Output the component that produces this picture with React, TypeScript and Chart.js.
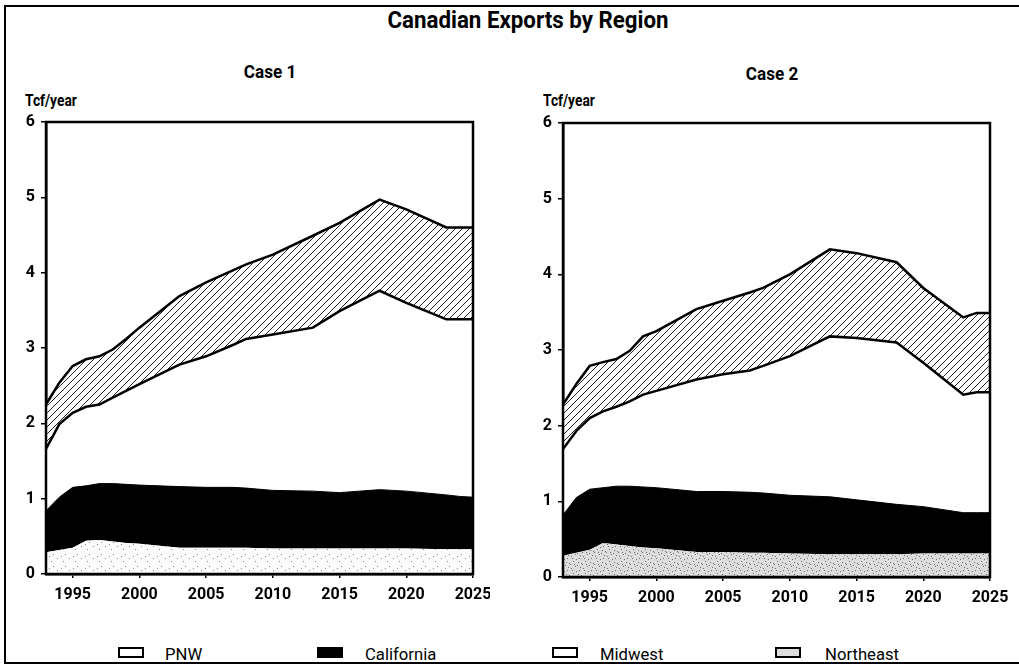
import React, { useEffect, useRef } from "react";
import { Chart, registerables } from "chart.js";

Chart.register(...registerables);

// ---------- DATA ----------
const years = [1993, 1994, 1995, 1996, 1997, 1998, 1999, 2000, 2003, 2005, 2007, 2008, 2010, 2013, 2015, 2018, 2020, 2023, 2024, 2025];
const xTickYears = [1995, 2000, 2005, 2010, 2015, 2020, 2025];
const yTicks = [0, 1, 2, 3, 4, 5, 6];
const seriesNames = ["PNW", "California", "Midwest", "Northeast"];

// Case 1 (Tcf/year, per region, stacked)
const case1PNW = [0.29, 0.32, 0.35, 0.44, 0.45, 0.43, 0.41, 0.40, 0.35, 0.35, 0.35, 0.35, 0.34, 0.34, 0.34, 0.34, 0.34, 0.33, 0.33, 0.33];
const case1California = [0.55, 0.70, 0.80, 0.73, 0.75, 0.77, 0.78, 0.78, 0.81, 0.80, 0.80, 0.79, 0.77, 0.76, 0.74, 0.78, 0.76, 0.72, 0.70, 0.69];
const case1Midwest = [0.82, 0.97, 0.99, 1.05, 1.05, 1.14, 1.24, 1.34, 1.62, 1.74, 1.89, 1.98, 2.07, 2.17, 2.41, 2.64, 2.50, 2.33, 2.35, 2.36];
const case1Northeast = [0.59, 0.55, 0.62, 0.63, 0.64, 0.64, 0.69, 0.75, 0.91, 0.98, 0.99, 0.99, 1.06, 1.22, 1.17, 1.21, 1.24, 1.22, 1.22, 1.22];

// Case 2
const case2PNW = [0.28, 0.32, 0.36, 0.45, 0.43, 0.41, 0.39, 0.38, 0.33, 0.33, 0.32, 0.32, 0.31, 0.30, 0.30, 0.30, 0.31, 0.31, 0.31, 0.31];
const case2California = [0.54, 0.73, 0.80, 0.73, 0.77, 0.79, 0.80, 0.80, 0.80, 0.80, 0.80, 0.79, 0.77, 0.76, 0.72, 0.66, 0.62, 0.54, 0.54, 0.54];
const case2Midwest = [0.87, 0.88, 0.94, 1.01, 1.05, 1.12, 1.22, 1.28, 1.48, 1.55, 1.61, 1.68, 1.84, 2.12, 2.14, 2.14, 1.90, 1.56, 1.59, 1.59];
const case2Northeast = [0.59, 0.62, 0.69, 0.65, 0.63, 0.67, 0.77, 0.79, 0.93, 0.97, 1.03, 1.03, 1.08, 1.15, 1.12, 1.06, 0.99, 1.02, 1.05, 1.05];

const FONT = 'Roboto, "Noto Sans", sans-serif';

// ---------- PATTERNS ----------
function makeHatch(): CanvasPattern | string {
  const c = document.createElement("canvas");
  c.width = 7;
  c.height = 7;
  const g = c.getContext("2d");
  if (!g) return "#ccc";
  g.fillStyle = "#fff";
  g.fillRect(0, 0, 7, 7);
  g.strokeStyle = "#222";
  g.lineWidth = 1;
  g.beginPath();
  g.moveTo(-1, 8);
  g.lineTo(8, -1);
  g.stroke();
  g.beginPath();
  g.moveTo(-1, 1);
  g.lineTo(1, -1);
  g.stroke();
  g.beginPath();
  g.moveTo(6, 8);
  g.lineTo(8, 6);
  g.stroke();
  return g.createPattern(c, "repeat") || "#ccc";
}

const speckDots = [
  [1, 2], [5, 0], [9, 4], [3, 7], [11, 9], [7, 11], [0, 10], [6, 5], [10, 1], [2, 4], [8, 8], [4, 10],
];

function makeSpeckle(count: number, base: string, dot: string): CanvasPattern | string {
  const c = document.createElement("canvas");
  c.width = 12;
  c.height = 12;
  const g = c.getContext("2d");
  if (!g) return base;
  g.fillStyle = base;
  g.fillRect(0, 0, 12, 12);
  g.fillStyle = dot;
  for (let i = 0; i < Math.min(count, speckDots.length); i++) {
    g.fillRect(speckDots[i][0], speckDots[i][1], 1, 1);
  }
  return g.createPattern(c, "repeat") || base;
}

// ---------- PANEL ----------
type Geom = { yWidth: number; xHeight: number; padTop: number; padRight: number };

const framePlugin = {
  id: "plotFrame",
  afterDatasetsDraw(chart: any) {
    const { ctx, chartArea } = chart;
    ctx.save();
    ctx.strokeStyle = "#000";
    ctx.lineWidth = 2.5;
    ctx.strokeRect(chartArea.left, chartArea.top, chartArea.right - chartArea.left, chartArea.bottom - chartArea.top);
    ctx.restore();
  },
};

function Panel(props: {
  pnw: number[];
  cal: number[];
  mid: number[];
  ne: number[];
  geom: Geom;
  speckCount: number;
  speckBase: string;
  speckDot: string;
  width: number;
  height: number;
}) {
  const ref = useRef<HTMLCanvasElement | null>(null);
  useEffect(() => {
    if (!ref.current) return;
    const hatch = makeHatch();
    const speck = makeSpeckle(props.speckCount, props.speckBase, props.speckDot);
    const pts = (arr: number[]) => years.map((x, i) => ({ x, y: arr[i] }));
    const { geom } = props;
    const chart = new Chart(ref.current, {
      type: "line",
      data: {
        datasets: [
          { label: seriesNames[0], data: pts(props.pnw), fill: "origin", backgroundColor: speck as any, borderColor: "rgba(0,0,0,0)", borderWidth: 0, pointRadius: 0, tension: 0 },
          { label: seriesNames[1], data: pts(props.cal), fill: "-1", backgroundColor: "#000", borderColor: "#000", borderWidth: 1, pointRadius: 0, tension: 0 },
          { label: seriesNames[2], data: pts(props.mid), fill: "-1", backgroundColor: "#fff", borderColor: "#000", borderWidth: 2.5, pointRadius: 0, tension: 0 },
          { label: seriesNames[3], data: pts(props.ne), fill: "-1", backgroundColor: hatch as any, borderColor: "#000", borderWidth: 2.5, pointRadius: 0, tension: 0 },
        ],
      },
      options: {
        animation: false,
        responsive: false,
        maintainAspectRatio: false,
        layout: { padding: { top: geom.padTop, right: geom.padRight, left: 0, bottom: 0 } },
        plugins: { legend: { display: false }, title: { display: false }, tooltip: { enabled: false } },
        scales: {
          x: {
            type: "linear",
            min: years[0],
            max: years[years.length - 1],
            grid: { display: true, drawOnChartArea: false, drawTicks: true, tickLength: 4, color: "#000", lineWidth: 1.5 },
            border: { display: true, color: "#000", width: 2.5 },
            afterBuildTicks: (scale: any) => {
              scale.ticks = xTickYears.map((v) => ({ value: v }));
            },
            afterFit: (scale: any) => {
              scale.height = geom.xHeight;
              scale.paddingLeft = 0;
              scale.paddingRight = 0;
            },
            ticks: {
              autoSkip: false,
              maxRotation: 0,
              color: "#000",
              padding: 7,
              font: { family: FONT, size: 16, weight: "bold" },
              callback: (v: any) => String(v),
            },
          },
          y: {
            stacked: true,
            min: 0,
            max: 6,
            grid: { display: true, drawOnChartArea: false, drawTicks: true, tickLength: 5, color: "#000", lineWidth: 1.5 },
            border: { display: true, color: "#000", width: 2.5 },
            afterBuildTicks: (scale: any) => {
              scale.ticks = yTicks.map((v) => ({ value: v }));
            },
            afterFit: (scale: any) => {
              scale.width = geom.yWidth;
              scale.paddingTop = 0;
              scale.paddingBottom = 0;
            },
            ticks: {
              color: "#000",
              padding: 6,
              font: { family: FONT, size: 16, weight: "bold" },
            },
          },
        },
      },
      plugins: [framePlugin],
    } as any);
    return () => chart.destroy();
  }, []);
  return <canvas ref={ref} width={props.width} height={props.height} style={{ width: props.width, height: props.height, display: "block" }} />;
}

function LegendItem(props: { left: number; textLeft: number; label: string; fill: string }) {
  return (
    <>
      <div
        style={{
          position: "absolute",
          left: props.left,
          top: 647,
          width: 22,
          height: 7,
          border: "2px solid #000",
          background: props.fill,
        }}
      />
      <div style={{ position: "absolute", left: props.textLeft, top: 644, fontSize: 17, fontFamily: FONT, lineHeight: "20px", color: "#000", transform: "scaleX(0.98)", transformOrigin: "left center", whiteSpace: "nowrap" }}>
        {props.label}
      </div>
    </>
  );
}

const condensed = (origin: string, s: number) => ({ transform: `scaleX(${s})`, transformOrigin: origin, whiteSpace: "nowrap" as const });

export default function App() {
  return (
    <div style={{ position: "absolute", left: 0, top: 0, width: 1019, height: 671, background: "#fff", fontFamily: FONT, color: "#000", overflow: "hidden" }}>
      {/* outer frame */}
      <div style={{ position: "absolute", left: 4, top: 5, width: 1015, height: 2, background: "#000" }} />
      <div style={{ position: "absolute", left: 4, top: 5, width: 2, height: 659, background: "#000" }} />
      <div style={{ position: "absolute", left: 4, top: 662, width: 1015, height: 2, background: "#000" }} />

      <div style={{ position: "absolute", left: 278, top: 7, width: 500, textAlign: "center", fontSize: 23, fontWeight: "bold", lineHeight: "28px", ...condensed("center center", 0.97) }}>
        Canadian Exports by Region
      </div>
      <div style={{ position: "absolute", left: 170, top: 61, width: 200, textAlign: "center", fontSize: 18, fontWeight: "bold", lineHeight: "22px", ...condensed("center center", 0.95) }}>Case 1</div>
      <div style={{ position: "absolute", left: 672, top: 63, width: 200, textAlign: "center", fontSize: 18, fontWeight: "bold", lineHeight: "22px", ...condensed("center center", 0.95) }}>Case 2</div>
      <div style={{ position: "absolute", left: 25, top: 91, fontSize: 16, fontWeight: "bold", lineHeight: "20px", ...condensed("left center", 0.86) }}>Tcf/year</div>
      <div style={{ position: "absolute", left: 543, top: 91, fontSize: 16, fontWeight: "bold", lineHeight: "20px", ...condensed("left center", 0.86) }}>Tcf/year</div>

      <div style={{ position: "absolute", left: 0, top: 110 }}>
        <Panel pnw={case1PNW} cal={case1California} mid={case1Midwest} ne={case1Northeast} geom={{ yWidth: 46, xHeight: 46, padTop: 12, padRight: 17 }} speckCount={4} speckBase="#fbfbfb" speckDot="#8a8a8a" width={490} height={510} />
      </div>
      <div style={{ position: "absolute", left: 510, top: 110 }}>
        <Panel pnw={case2PNW} cal={case2California} mid={case2Midwest} ne={case2Northeast} geom={{ yWidth: 53, xHeight: 43, padTop: 13, padRight: 20 }} speckCount={12} speckBase="#dcdcdc" speckDot="#707070" width={500} height={510} />
      </div>

      <LegendItem left={118} textLeft={165} label="PNW" fill="#fff" />
      <LegendItem left={317} textLeft={365} label="California" fill="#000" />
      <LegendItem left={552} textLeft={600} label="Midwest" fill="#fff" />
      <LegendItem left={775} textLeft={825} label="Northeast" fill="#ddd" />
    </div>
  );
}
